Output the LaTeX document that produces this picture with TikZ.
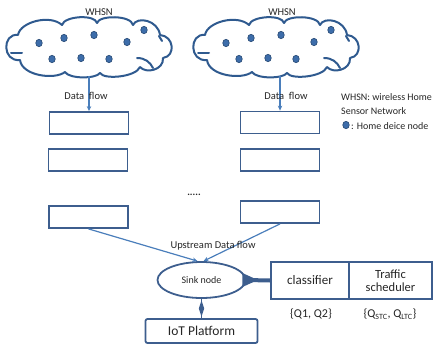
\documentclass[tikz,border=0pt]{standalone}
\usepackage{fontspec}
\setmainfont{Carlito}
\usetikzlibrary{shapes.geometric,arrows.meta}
\definecolor{boxc}{HTML}{3D5E8E}
\definecolor{arrc}{HTML}{4A7EBB}
\definecolor{cloudc}{HTML}{2F5A8F}
\definecolor{dotc}{HTML}{3D6DAA}
\begin{document}
\begin{tikzpicture}[x=1pt,y=-1pt,
 cloudline/.style={draw=cloudc, line width=2pt, line cap=round, line join=round},
 cloudpic/.pic={
   \draw[cloudline] (18,35) .. controls (20,22) and (50,14) .. (62,25)
      .. controls (64,16) and (95,14) .. (97,23)
      .. controls (99,15) and (131,15) .. (133,25)
      .. controls (137,16) and (158,20) .. (160,35)
      .. controls (174,36) and (176,56) .. (163,58)
      .. controls (164,70) and (146,74) .. (140,67)
      .. controls (136,77) and (104,80) .. (100,73)
      .. controls (96,79) and (69,79) .. (65,72)
      .. controls (55,80) and (22,76) .. (20,60)
      .. controls (2,62) and (2,33) .. (18,35);
   \draw[cloudline] (11,53) -- (22,53);
   \draw[cloudline] (137,58) .. controls (145,58) and (150,62) .. (153,68);
   \draw[cloudline] (159,36) .. controls (161,38) .. (162,41);
 },
 hdot/.style={ellipse, fill=dotc, draw=cloudc!80!black, line width=0.6pt, minimum width=6.5pt, minimum height=7.5pt, inner sep=0pt},
 qbox/.style={draw=boxc, line width=1.8pt, minimum width=79pt, minimum height=22pt, inner sep=0pt},
 flow/.style={draw=arrc, line width=1.2pt, -{Stealth[length=5pt,width=4.5pt]}},
 lbl/.style={font=\fontsize{10}{12}\selectfont, inner sep=0pt, text=black!85},
 big/.style={font=\fontsize{13}{15}\selectfont, inner sep=0pt, text=black!85},
]
\useasboundingbox (0,0) rectangle (443,345);
% clouds
\pic at (0,0) {cloudpic};
\pic at (187,0) {cloudpic};
\coordinate (c1b) at (88,76);
\coordinate (c2b) at (283,76);
\node[lbl, font=\fontsize{10.5}{12}\selectfont] (w1) at (99,12) {WHSN};
\node[lbl, font=\fontsize{10.5}{12}\selectfont] (w2) at (282,12) {WHSN};
% dots
\foreach \x/\y [count=\i] in {39/43,64/38,94/35,127/42,144/30,52/59,81/58,109/59}{
  \node[hdot] (da\i) at (\x,\y) {};
  \node[hdot] (db\i) at (\x+187,\y) {};
}
% boxes
\node[qbox] (b1) at (89,123) {};
\node[qbox] (b2) at (88,160) {};
\node[qbox] (b3) at (88.5,217) {};
\node[qbox] (b4) at (280,122.5) {};
\node[qbox] (b5) at (280,160) {};
\node[qbox] (b6) at (280,212) {};
\node[lbl, font=\fontsize{10}{12}\selectfont\bfseries] (dd) at (194,195) {.....};
% data flow
\draw[flow] (b1.north |- c1b) -- (b1.north);
\draw[flow] (b4.north |- c2b) -- (b4.north);
\node[lbl, font=\fontsize{10.5}{12}\selectfont] (f1) at (86,96) {Data\ \ flow};
\node[lbl, font=\fontsize{10.5}{12}\selectfont] (f2) at (286,96) {Data\ \ flow};
% legend
\node[lbl, anchor=west] (l1) at (341,97) {WHSN: wireless Home};
\node[lbl, anchor=west] (l2) at (341,111) {Sensor Network};
\node[hdot] (ld) at (346,125) {};
\node[lbl, anchor=west] (l3) at (351,126) {: Home deice node};
% sink
\node[ellipse, draw=boxc, line width=1.8pt, minimum width=88pt, minimum height=36pt, inner sep=0pt, font=\fontsize{10}{12}\selectfont, text=black!85] (sink) at (201.5,280) {Sink node};
\draw[flow] (b3.south) -- ([xshift=-4pt]sink.north);
\draw[flow] (b6.south) -- ([xshift=2pt]sink.north);
\node[lbl, font=\fontsize{10.5}{12}\selectfont] (up) at (213,246) {Upstream\ Data\ flow};
% classifier / scheduler
\node[draw=boxc, line width=1.8pt, minimum width=78pt, minimum height=37pt, inner sep=0pt, big] (cls) at (310,280.5) {classifier};
\node[draw=boxc, line width=1.8pt, minimum width=83pt, minimum height=37pt, inner sep=0pt, align=center, font=\fontsize{12.5}{13}\selectfont, text=black!85] (sch) at (390.5,280.5) {Traffic\\scheduler};
\draw[boxc, line width=4pt] (sink.east) -- (cls.west);
\fill[boxc] (sink.east) ++(-4,-7) -- ++(11,5) -- ++(0,4) -- ++(-11,5) -- cycle;
\node[big, font=\fontsize{12}{14}\selectfont] (q1) at (311,314) {\{Q1, Q2\}};
\node[big, font=\fontsize{12}{14}\selectfont] (q2) at (390,314) {\{Q\textsubscript{STC}, Q\textsubscript{LTC}\}};
% IoT
\node[draw=boxc, rounded corners=2pt, line width=1.8pt, minimum width=112pt, minimum height=24pt, inner sep=0pt, big, font=\fontsize{13.5}{15}\selectfont] (iot) at (201.5,331) {IoT Platform};
\draw[boxc, line width=1.6pt] (sink.south) -- node[diamond, fill=boxc, minimum width=6pt, minimum height=17pt, inner sep=0pt]{} (iot.north);
\end{tikzpicture}
\end{document}
